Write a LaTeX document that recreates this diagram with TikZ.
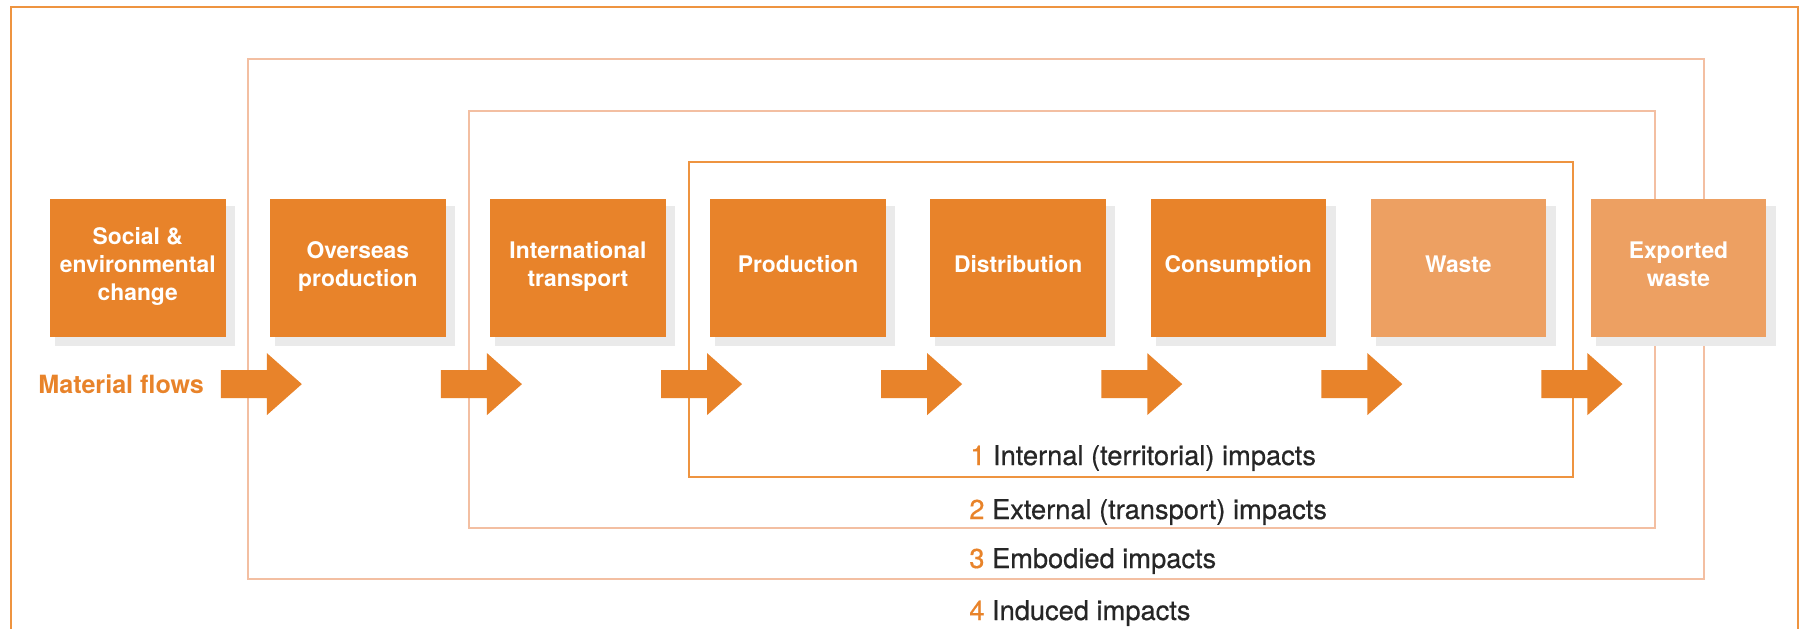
\documentclass[tikz,border=0pt]{standalone}
\usepackage{fontspec}
\setmainfont{TeX Gyre Heros}
\newfontfamily\impactfont[FakeBold=0.6]{TeX Gyre Heros}
\usetikzlibrary{calc}

\definecolor{flowor}{HTML}{E8832A}
\definecolor{wasteor}{HTML}{EDA062}
\definecolor{loopor}{HTML}{EE9440}
\definecolor{looppale}{HTML}{F3BFA2}
\definecolor{shadowgray}{HTML}{EAEAEA}
\definecolor{ink}{HTML}{262626}

\tikzset{
  stage/.style={fill=flowor, minimum width=35.1mm, minimum height=27.5mm,
    inner sep=0pt},
  late/.style={stage, fill=wasteor},
  stagetext/.style={yshift=0.8mm, inner sep=0pt, text depth=0pt, align=center,
    text=white, font=\fontsize{13}{16}\selectfont\bfseries},
  loopline/.style={draw=looppale, line width=0.35mm},
  impact/.style={anchor=base west, inner sep=0pt, text=ink,
    font=\fontsize{15.5}{18}\impactfont},
  flowarrow/.style={fill=flowor},
}

\begin{document}
\begin{tikzpicture}[x=0.2mm, y=-0.2mm]
    \useasboundingbox (0,0) rectangle (1801,629);

    % outer frame (open at the bottom) and the impact loops
    \draw[loopor, line width=0.45mm] (11,640) |- (1798,7) -- (1798,640);
    \draw[loopline] (248,59) rectangle (1704,579);
    \draw[loopline] (469,111) rectangle (1655,528);
    \draw[loopor, line width=0.35mm] (689,162) rectangle (1573,477);

    % shadows, then the stages
    \foreach \i in {1,...,8}
        \fill[shadowgray] ({55+220.1*(\i-1)},206) rectangle ++(180,140);
    \foreach \txt [count=\i] in {Social \&\\environmental\\change, Overseas\\production,
        International\\transport, Production, Distribution, Consumption}
        \node[stage, label={[stagetext]center:\txt}] (b\i) at ({137.75+220.1*(\i-1)},268) {};
    \node[late, label={[stagetext]center:Waste}] (b7) at ({137.75+220.1*6},268) {};
    \node[late, label={[stagetext]center:Exported\\waste}] (b8) at ({137.75+220.1*7},268) {};

    % flow arrows under the stages
    \foreach \i in {1,...,7}
        \fill[flowarrow, shift={($(b\i.south east)+(-5,47)$)}]
            (0,-14) -- (46,-14) -- (46,-31) -- (81,0) -- (46,31) -- (46,14) -- (0,14) -- cycle;

    \node[anchor=base west, inner sep=0pt, text=flowor,
        font=\fontsize{14.3}{17}\selectfont\bfseries] (mf) at (38,393) {Material flows};

    \node[impact] (imp1) at (970,465) {\textcolor{flowor}{1} Internal (territorial) impacts};
    \node[impact] (imp2) at (969,519) {\textcolor{flowor}{2} External (transport) impacts};
    \node[impact] (imp3) at (969,568) {\textcolor{flowor}{3} Embodied impacts};
    \node[impact] (imp4) at (969,620) {\textcolor{flowor}{4} Induced impacts};
\end{tikzpicture}
\end{document}
